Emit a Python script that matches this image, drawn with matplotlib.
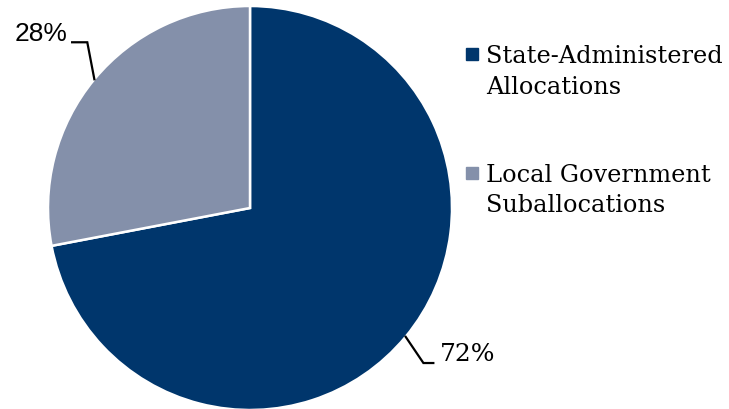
import numpy as np
import matplotlib
matplotlib.use('Agg')
from matplotlib import pyplot as plt
from matplotlib.lines import Line2D

labels = ['State-Administered\nAllocations', 'Local Government\nSuballocations']
shares = [72, 28]
colors = ['#00366C', '#8490AA']

W, H = 729, 409
fig = plt.figure(figsize=(W / 100, H / 100), dpi=100)

# pie axes placed in pixels: centre (250, 208), radius 202
cx, cy, r = 250, 208, 202
ax = fig.add_axes([(cx - r) / W, (H - cy - r) / H, 2 * r / W, 2 * r / H])
wedges, _ = ax.pie(shares, colors=colors, startangle=90, counterclock=False,
                   radius=1, wedgeprops=dict(edgecolor='white', linewidth=1.8))
ax.set_xlim(-1, 1)
ax.set_ylim(-1, 1)
ax.set_aspect('equal')
ax.axis('off')

# percentage labels with elbow leader lines
def mid_point(w):
    a = np.deg2rad((w.theta1 + w.theta2) / 2)
    return np.cos(a), np.sin(a)

x0, y0 = mid_point(wedges[0])
ax.plot([x0, x0 + 0.088, x0 + 0.137], [y0, y0 - 0.13, y0 - 0.13],
        color='black', lw=1.6, clip_on=False, solid_joinstyle='miter')
ax.text(x0 + 0.168, y0 - 0.09, '%d%%' % shares[0], fontsize=18,
        family='DejaVu Serif', ha='left', va='center')

x1, y1 = mid_point(wedges[1])
ax.plot([x1, x1 - 0.035, x1 - 0.11], [y1, y1 + 0.183, y1 + 0.183],
        color='black', lw=1.6, clip_on=False, solid_joinstyle='miter')
ax.text(x1 - 0.133, y1 + 0.225, '%d%%' % shares[1], fontsize=19,
        family='Liberation Sans', ha='right', va='center')

# legend drawn by hand: square aligned with the first line of each label
tops = [63, 182]
for lab, c, base in zip(labels, colors, tops):
    fig.add_artist(Line2D([472 / W], [1 - (base - 9) / H], transform=fig.transFigure,
                          marker='s', markersize=8, markerfacecolor=c, markeredgecolor=c,
                          linestyle='none'))
    for i, line in enumerate(lab.split('\n')):
        fig.text(486 / W, 1 - (base + 30.5 * i) / H, line, family='DejaVu Serif',
                 fontsize=17.3, ha='left', va='baseline')

plt.savefig('out.png', dpi=100)
